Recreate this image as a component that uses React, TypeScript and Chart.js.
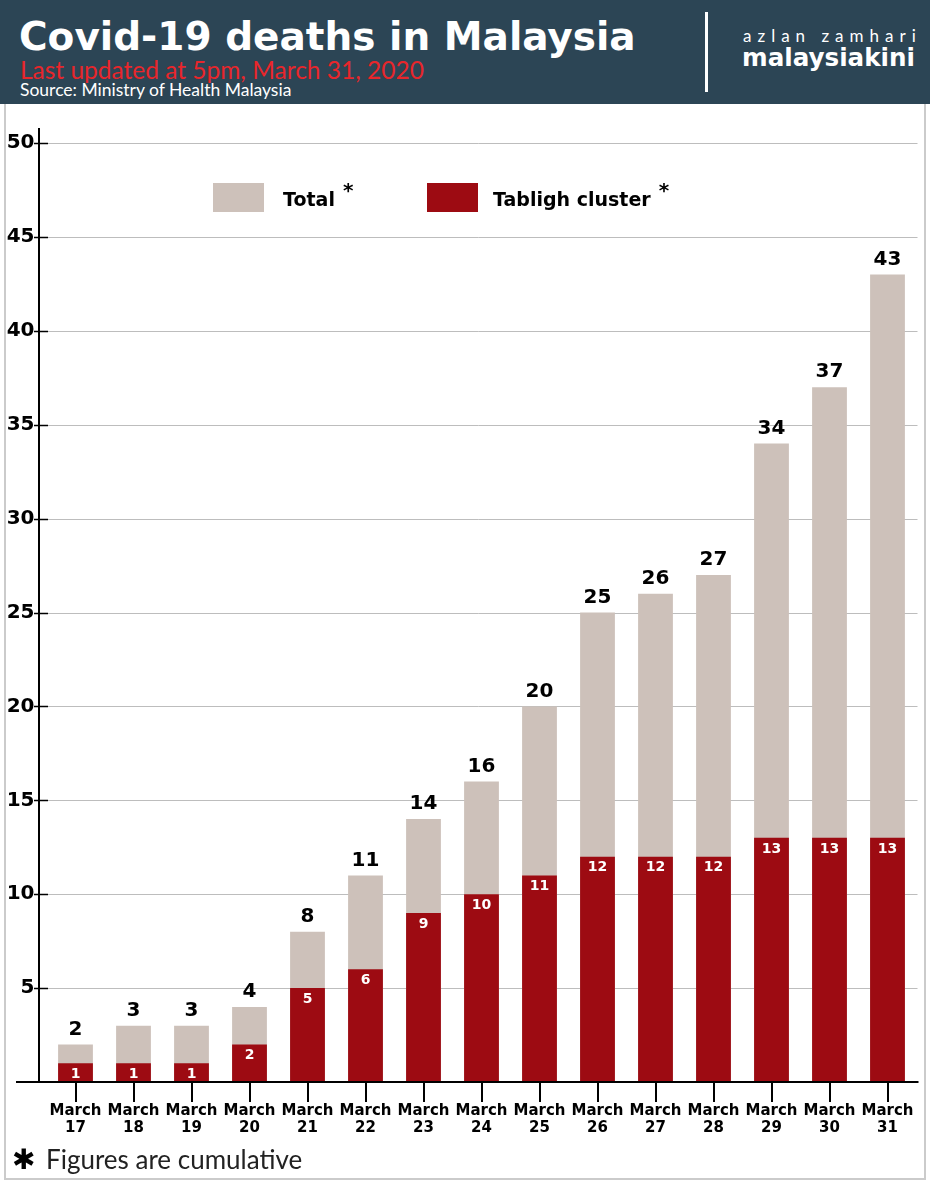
import React, { useEffect, useRef } from "react";
import { Chart, registerables } from "chart.js";

Chart.register(...registerables);

const categories = [
  "March 17", "March 18", "March 19", "March 20", "March 21", "March 22", "March 23", "March 24",
  "March 25", "March 26", "March 27", "March 28", "March 29", "March 30", "March 31",
];
const totalDeaths = [2, 3, 3, 4, 8, 11, 14, 16, 20, 25, 26, 27, 34, 37, 43];
const tablighDeaths = [1, 1, 1, 2, 5, 6, 9, 10, 11, 12, 12, 12, 13, 13, 13];
const yTicks = [0, 5, 10, 15, 20, 25, 30, 35, 40, 45, 50];

const TOTAL_COLOR = "#cdc1ba";
const TABLIGH_COLOR = "#9d0b12";
const HEADER_BG = "#2c4555";
const BOLD_FONT = "'DejaVu Sans', sans-serif";
const LIGHT_FONT = "Lato, 'Open Sans', sans-serif";

const decorPlugin = {
  id: "decor",
  beforeDatasetsDraw(chart: any) {
    const { ctx, chartArea, scales } = chart;
    const y = scales.y;
    const axisX = chartArea.left - 7.5;
    ctx.save();
    ctx.strokeStyle = "#bdbdbd";
    ctx.lineWidth = 1;
    yTicks.forEach((v) => {
      if (v === 0) return;
      const py = Math.round(y.getPixelForValue(v)) + 0.5;
      ctx.beginPath();
      ctx.moveTo(axisX, py);
      ctx.lineTo(chartArea.right + 1, py);
      ctx.stroke();
    });
    ctx.restore();
  },
  afterDatasetsDraw(chart: any) {
    const { ctx, chartArea, scales } = chart;
    const y = scales.y;
    const axisX = chartArea.left - 7.5;
    const zeroY = y.getPixelForValue(0);
    ctx.save();
    ctx.strokeStyle = "#000";
    ctx.lineWidth = 2;
    ctx.beginPath();
    ctx.moveTo(axisX, chartArea.top);
    ctx.lineTo(axisX, zeroY);
    ctx.stroke();
    ctx.lineWidth = 1.5;
    yTicks.forEach((v) => {
      if (v === 0) return;
      const py = Math.round(y.getPixelForValue(v)) + 0.5;
      ctx.beginPath();
      ctx.moveTo(axisX - 5, py);
      ctx.lineTo(axisX + 9, py);
      ctx.stroke();
    });
    ctx.lineWidth = 2;
    ctx.beginPath();
    ctx.moveTo(16, zeroY);
    ctx.lineTo(chartArea.right + 2, zeroY);
    ctx.stroke();

    const totalMeta = chart.getDatasetMeta(1);
    const tabMeta = chart.getDatasetMeta(0);
    ctx.textAlign = "center";
    ctx.fillStyle = "#000";
    ctx.font = `bold 20px ${BOLD_FONT}`;
    ctx.textBaseline = "bottom";
    totalMeta.data.forEach((bar: any, i: number) => {
      ctx.fillText(String(totalDeaths[i]), bar.x, bar.y - 5);
    });
    ctx.fillStyle = "#fff";
    ctx.font = `bold 14px ${BOLD_FONT}`;
    ctx.textBaseline = "middle";
    tabMeta.data.forEach((bar: any, i: number) => {
      ctx.fillText(String(tablighDeaths[i]), bar.x, bar.y + 11);
    });
    ctx.restore();
  },
};

function ChartCanvas() {
  const ref = useRef<HTMLCanvasElement | null>(null);
  useEffect(() => {
    if (!ref.current) return;
    const chart = new Chart(ref.current, {
      type: "bar",
      data: {
        labels: categories.map((c) => c.split(" ")),
        datasets: [
          {
            label: "Tabligh cluster",
            data: tablighDeaths,
            backgroundColor: TABLIGH_COLOR,
            grouped: false,
            order: 0,
            barPercentage: 0.6,
            categoryPercentage: 1,
          },
          {
            label: "Total",
            data: totalDeaths,
            backgroundColor: TOTAL_COLOR,
            grouped: false,
            order: 1,
            barPercentage: 0.6,
            categoryPercentage: 1,
          },
        ] as any,
      },
      options: {
        animation: false,
        responsive: true,
        maintainAspectRatio: false,
        layout: { padding: { left: 0, top: 22, right: 13.5, bottom: 38 } },
        plugins: {
          legend: { display: false },
          tooltip: { enabled: false },
          title: { display: false },
        },
        scales: {
          x: {
            grid: {
              display: true,
              drawOnChartArea: false,
              drawTicks: true,
              tickLength: 20,
              color: "#000",
              lineWidth: 2,
              offset: false,
            },
            border: { display: false },
            ticks: {
              color: "#000",
              font: { family: BOLD_FONT, weight: "bold", size: 15, lineHeight: 1.15 },
              padding: 0,
              maxRotation: 0,
              autoSkip: false,
            },
            afterFit: (scale: any) => {
              scale.height = 60;
            },
          },
          y: {
            min: 0,
            max: 50.8,
            grid: { display: false, drawTicks: false, tickLength: 0 },
            border: { display: false },
            afterBuildTicks: (scale: any) => {
              scale.ticks = yTicks.map((v) => ({ value: v }));
            },
            ticks: {
              color: "#000",
              padding: 12,
              font: { family: BOLD_FONT, weight: "bold", size: 20 },
              callback: (v: any) => (Number(v) === 0 ? "" : String(v)),
            },
            afterFit: (scale: any) => {
              scale.width = 46.5;
            },
          },
        },
      },
      plugins: [decorPlugin],
    });
    return () => chart.destroy();
  }, []);
  return <canvas ref={ref} />;
}

export default function App() {
  const abs = (s: React.CSSProperties): React.CSSProperties => ({ position: "absolute", margin: 0, whiteSpace: "nowrap", ...s });
  const legendText: React.CSSProperties = { fontFamily: BOLD_FONT, fontWeight: "bold", fontSize: 19, lineHeight: "24px", color: "#000" };
  const star: React.CSSProperties = { fontSize: 20, position: "relative", top: -9, marginLeft: 8 };
  return (
    <div style={{ position: "absolute", left: 0, top: 0, width: 930, height: 1200, background: "#fff", overflow: "hidden" }}>
      <div style={abs({ left: 0, top: 0, width: 930, height: 104, background: HEADER_BG })}>
        <div style={abs({ left: 19, top: 14, fontFamily: BOLD_FONT, fontWeight: "bold", fontSize: 39, lineHeight: "46px", color: "#fff" })}>
          Covid-19 deaths in Malaysia
        </div>
        <div style={abs({ left: 20, top: 57, fontFamily: LIGHT_FONT, fontSize: 24.5, lineHeight: "26px", color: "#e8262b" })}>
          Last updated at 5pm, March 31, 2020
        </div>
        <div style={abs({ left: 20, top: 80, fontFamily: LIGHT_FONT, fontSize: 17.5, lineHeight: "19px", color: "#fff" })}>
          Source: Ministry of Health Malaysia
        </div>
        <div style={abs({ left: 705, top: 12, width: 3, height: 80, background: "#fff" })} />
        <div style={abs({ left: 743, top: 26, fontFamily: LIGHT_FONT, fontSize: 17, lineHeight: "20px", letterSpacing: 6, color: "#fff" })}>
          azlan zamhari
        </div>
        <div style={abs({ left: 742, top: 44, fontFamily: BOLD_FONT, fontWeight: "bold", fontSize: 24.6, lineHeight: "28px", color: "#fff" })}>
          malaysiakini
        </div>
      </div>
      <div style={abs({ left: 4, top: 104, width: 918, height: 1074, border: "2px solid #cbcbcb", borderTop: "none" })} />
      <div style={abs({ left: 0, top: 104, width: 930, height: 1076 })}>
        <ChartCanvas />
      </div>
      <div style={abs({ left: 213, top: 183, width: 51, height: 29, background: TOTAL_COLOR })} />
      <div style={abs({ left: 283, top: 187, ...legendText })}>
        Total<span style={star}>*</span>
      </div>
      <div style={abs({ left: 427, top: 183, width: 51, height: 29, background: TABLIGH_COLOR })} />
      <div style={abs({ left: 493, top: 187, ...legendText })}>
        Tabligh cluster<span style={star}>*</span>
      </div>
      <div style={abs({ left: 12, top: 1144, fontFamily: BOLD_FONT, fontSize: 28, lineHeight: "32px", color: "#000" })}>
        ✱
      </div>
      <div style={abs({ left: 46, top: 1144, fontFamily: LIGHT_FONT, fontSize: 26, lineHeight: "30px", color: "#222" })}>
        Figures are cumulative
      </div>
    </div>
  );
}
